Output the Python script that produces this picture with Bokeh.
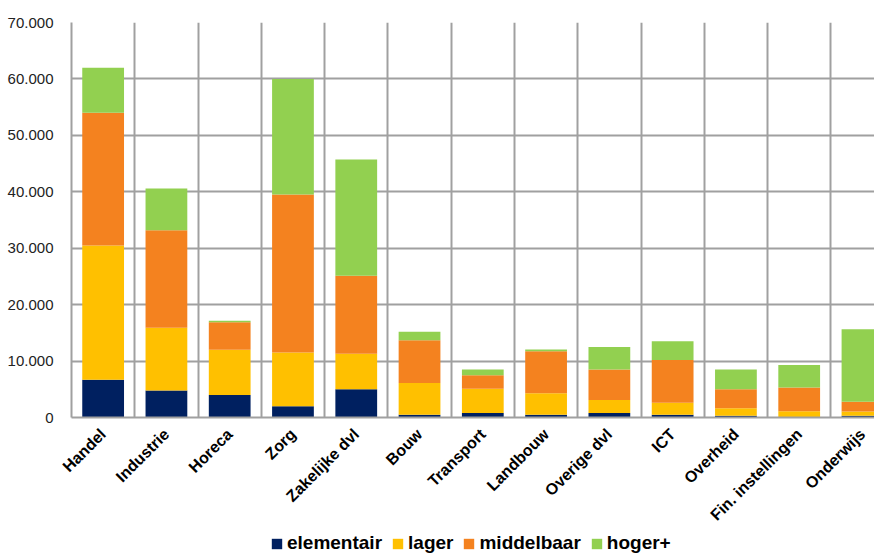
import math
from bokeh.plotting import figure
from bokeh.layouts import column
from bokeh.models import (Range1d, FixedTicker, Legend, LegendItem, ColumnDataSource)
from bokeh.embed import file_html
from bokeh.resources import INLINE

categories = ["Handel", "Industrie", "Horeca", "Zorg", "Zakelijke dvl", "Bouw", "Transport",
              "Landbouw", "Overige dvl", "ICT", "Overheid", "Fin. instellingen", "Onderwijs"]
elementair = [6700, 4800, 4000, 2000, 5000, 500, 800, 500, 800, 500, 300, 100, 300]
lager = [23800, 11100, 8000, 9500, 6300, 5600, 4300, 3800, 2300, 2100, 1350, 1000, 750]
middelbaar = [23500, 17300, 4900, 28000, 13800, 7600, 2400, 7450, 5400, 7600, 3350, 4200, 1750]
hoger = [8000, 7400, 250, 20500, 20600, 1500, 1000, 300, 4000, 3300, 3500, 4000, 12850]
series = ["elementair", "lager", "middelbaar", "hoger+"]
colors = ["#002060", "#FFC000", "#F4821F", "#92D050"]
y_ticks = [0, 10000, 20000, 30000, 40000, 50000, 60000, 70000]

x = [i + 0.5 for i in range(len(categories))]
src = ColumnDataSource(dict(x=x, elementair=elementair, lager=lager,
                            middelbaar=middelbaar, hoger=hoger))

p = figure(width=874, height=532, output_backend="svg", toolbar_location=None,
           min_border_left=71, min_border_top=22, min_border_right=0, min_border_bottom=115,
           x_range=Range1d(0, 12.69), y_range=Range1d(0, 70000))
p.outline_line_color = None

p.vbar_stack(["elementair", "lager", "middelbaar", "hoger"], x="x", width=0.66,
             color=colors, line_color=None, source=src)

grid_color = "#a0a0a0"
p.xgrid.ticker = FixedTicker(ticks=list(range(0, 14)))
p.xgrid.grid_line_color = grid_color
p.xgrid.grid_line_width = 2
p.ygrid.ticker = FixedTicker(ticks=y_ticks)
p.ygrid.grid_line_color = grid_color
p.ygrid.grid_line_width = 2

p.xaxis.ticker = FixedTicker(ticks=x)
p.xaxis.major_label_overrides = {v: c for v, c in zip(x, categories)}
p.xaxis.major_label_orientation = math.pi / 4
p.xaxis.major_label_text_font = "Liberation Sans"
p.xaxis.major_label_text_font_style = "bold"
p.xaxis.major_label_text_font_size = "16px"
p.xaxis.major_label_text_color = "black"
p.xaxis.major_label_standoff = 8
p.xaxis.major_tick_line_color = None
p.xaxis.minor_tick_line_color = None
p.xaxis.axis_line_color = grid_color
p.xaxis.axis_line_width = 2

p.yaxis.ticker = FixedTicker(ticks=y_ticks)
p.yaxis.major_label_overrides = {t: ("0" if t == 0 else f"{t // 1000}.000") for t in y_ticks}
p.yaxis.major_label_text_font = "Liberation Sans"
p.yaxis.major_label_text_font_size = "15px"
p.yaxis.major_label_text_color = "#222222"
p.yaxis.major_label_standoff = 12
p.yaxis.major_tick_line_color = None
p.yaxis.minor_tick_line_color = None
p.yaxis.axis_line_color = grid_color
p.yaxis.axis_line_width = 2

# Legend strip below the chart (its frame is aligned with the chart's frame)
lg = figure(width=874, height=22, output_backend="svg", toolbar_location=None,
            min_border=0, x_range=Range1d(0, 1), y_range=Range1d(0, 1),
            x_axis_location=None, y_axis_location=None)
lg.outline_line_color = None
lg.xgrid.visible = False
lg.ygrid.visible = False
items = []
for s, c in zip(series, colors):
    r = lg.vbar(x=[0], top=[0], bottom=[0], width=0, fill_color=c, line_color=None)
    items.append(LegendItem(label=s, renderers=[r]))

legend = Legend(items=items, orientation="horizontal", location=(199, 0))
legend.label_text_font = "Liberation Sans"
legend.label_text_font_style = "bold"
legend.label_text_font_size = "19px"
legend.label_text_color = "black"
legend.glyph_width = 13
legend.glyph_height = 13
legend.label_standoff = 4
legend.spacing = 9
legend.padding = 0
legend.margin = 0
legend.border_line_color = None
legend.background_fill_alpha = 0
lg.add_layout(legend, "center")

layout = column(p, lg, spacing=0)
open("out.html", "w").write(file_html(layout, INLINE))
